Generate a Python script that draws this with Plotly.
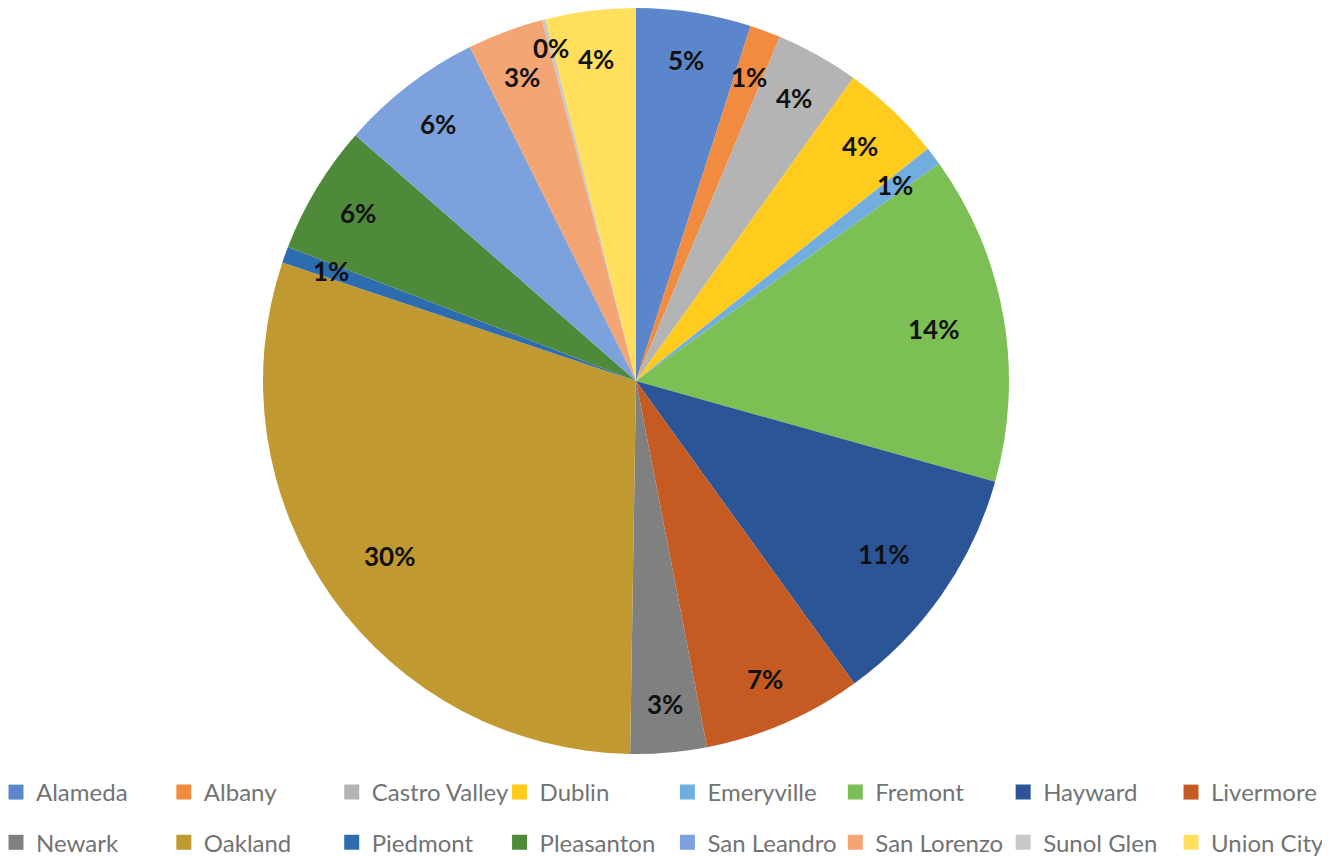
import math
import plotly.graph_objects as go

cities = ["Alameda", "Albany", "Castro Valley", "Dublin", "Emeryville", "Fremont",
          "Hayward", "Livermore", "Newark", "Oakland", "Piedmont", "Pleasanton",
          "San Leandro", "San Lorenzo", "Sunol Glen", "Union City"]
shares = [4.97, 1.33, 3.6, 4.4, 0.8, 14.25, 10.7, 6.9, 3.3, 29.9, 0.7, 5.6, 6.2, 3.3, 0.15, 3.9]
colors = ["#5b86cb", "#f08b40", "#b4b4b4", "#ffcb1c", "#72ade0", "#7bbf55",
          "#2b5597", "#c55b22", "#808080", "#c09a30", "#2e6cb0", "#4f8a3a",
          "#7ca1dc", "#f4a574", "#c8c8c8", "#ffdf5c"]

W, H = 1330, 857
OFF = 8                      # page body margin offset
CX, CY, R = 636 - OFF, 373, 373   # pie centre and radius in figure pixels

fig = go.Figure()
fig.add_trace(go.Pie(
    labels=cities, values=shares, sort=False, direction="clockwise", rotation=0,
    marker=dict(colors=colors, line=dict(width=0)),
    textinfo="none", hoverinfo="label+percent", showlegend=False,
    domain=dict(x=[max(0, (CX - R) / W), min(1, (CX + R) / W)],
                y=[max(0, (H - CY - R) / H), min(1, (H - CY + R) / H)]),
))

# percentage labels placed along each slice's mid-angle
total = sum(shares)
cum = 0.0
for name, v in zip(cities, shares):
    mid = (cum + v / 2) / total * 2 * math.pi
    cum += v
    f = 0.81 if v >= 10 else (0.92 if v < 0.5 else 0.87)
    x = (CX + f * R * math.sin(mid)) / W
    y = (H - CY + f * R * math.cos(mid)) / H
    fig.add_annotation(x=x, y=y, xref="paper", yref="paper", showarrow=False,
                       xanchor="center", yanchor="middle",
                       text=f"<b>{round(v / total * 100)}%</b>",
                       font=dict(family="Lato", size=26, color="#111111"))

# legend: 8 columns x 2 rows, one legend per column
NCOL = 8
COL_STEP = 167.86
leg_layout = {}
for i, (name, c) in enumerate(zip(cities, colors)):
    col = i % NCOL
    key = "legend" if col == 0 else f"legend{col + 1}"
    fig.add_trace(go.Scatter(
        x=[None], y=[None], mode="markers", name=name, legendgroup=name,
        marker=dict(symbol="square", size=15, color=c),
        legend=key, hoverinfo="skip",
    ))
    if key not in leg_layout:
        left_px = -12 + COL_STEP * col
        leg_layout[key] = dict(
            orientation="v", x=left_px / W, y=(H - 762) / H,
            xanchor="left", yanchor="top", tracegroupgap=16,
            font=dict(family="Lato", size=24, color="#737373"),
            bgcolor="rgba(0,0,0,0)", itemwidth=30, traceorder="grouped",
        )

fig.update_layout(
    width=W, height=H, paper_bgcolor="white", plot_bgcolor="white",
    margin=dict(l=0, r=0, t=0, b=0, autoexpand=False),
    xaxis=dict(visible=False), yaxis=dict(visible=False),
    showlegend=True,
    **leg_layout,
)
fig.write_html("out.html")
